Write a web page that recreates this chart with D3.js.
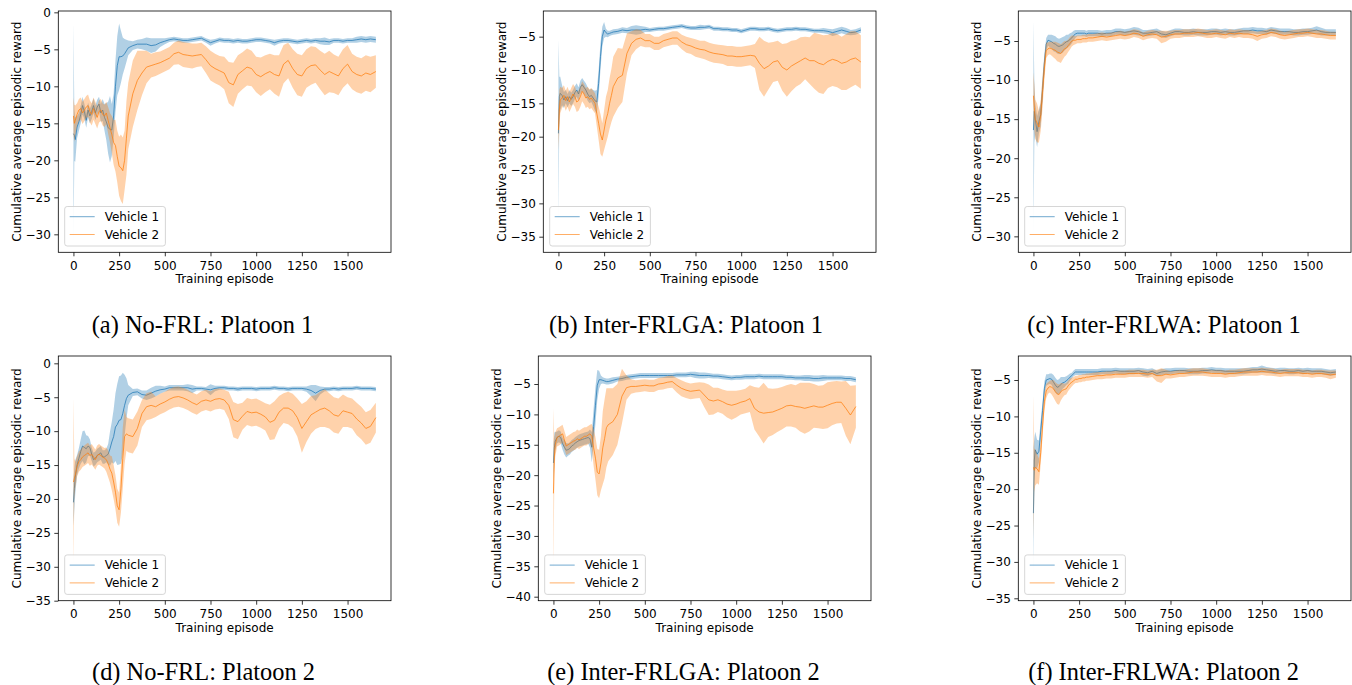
<!DOCTYPE html>
<html>
<head>
<meta charset="utf-8">
<script src="https://cdn.jsdelivr.net/npm/d3@7"></script>
<style>
  body { margin: 0; background: #fff; }
  svg { display: block; }
  .tick text { font-family: "DejaVu Sans", sans-serif; font-size: 12px; fill: #000; }
  .tick line { stroke: #000; stroke-width: 0.8; }
  .lbl { font-family: "DejaVu Sans", sans-serif; font-size: 12px; fill: #000; }
  .caption { font-family: "Liberation Serif", "Times New Roman", serif; font-size: 24.4px; fill: #000; }
</style>
</head>
<body>
<svg id="chart" width="1352" height="685"></svg>
<script>
// training episodes shared by every curve (denser at the start where things move fast)
const episodes = [
  0, 5, 10, 20, 30, 40, 50, 60, 70, 80, 90, 100, 110, 120, 130, 140, 150, 160, 170, 180,
  190, 200, 210, 220, 230, 240, 250, 260, 270, 280, 290, 300,
  325, 350, 375, 400, 425, 450, 475, 500, 525, 550, 575, 600, 625, 650, 675, 700, 725, 750,
  775, 800, 825, 850, 875, 900, 925, 950, 975, 1000, 1025, 1050, 1075, 1100, 1125, 1150, 1175, 1200,
  1225, 1250, 1275, 1300, 1325, 1350, 1375, 1400, 1425, 1450, 1475, 1500, 1525, 1550, 1575, 1600, 1625, 1655
]
const xTicks = [0, 250, 500, 750, 1000, 1250, 1500]
const seriesNames = ['Vehicle 1', 'Vehicle 2']

// (a) No-FRL: Platoon 1
const noFrlP1V1 = [
  -16.4, -16.6, -17.2, -15.5, -14.8, -13.8, -12.6, -13.4, -14.6, -13.2,
  -14.0, -13.4, -12.6, -13.6, -12.8, -12.4, -13.6, -13.2, -14.2, -14.8,
  -15.6, -15.8, -15.9, -14.0, -10.0, -7.2, -6.0, -6.0, -5.9, -5.6,
  -5.2, -4.8,
  -4.5, -4.3, -4.3, -4.3, -4.5, -4.4, -4.1, -3.9, -3.7, -3.6,
  -3.7, -3.8, -3.8, -3.7, -3.6, -3.5, -3.8, -4.1, -3.9, -3.7,
  -3.8, -3.8, -3.9, -3.8, -3.9, -3.9, -3.8, -3.7, -3.7, -3.8,
  -3.9, -4.1, -3.9, -3.8, -3.8, -3.9, -4.0, -3.9, -3.8, -3.9,
  -3.8, -3.9, -3.9, -4.0, -3.8, -3.8, -3.9, -3.8, -3.8, -3.7,
  -3.6, -3.7, -3.6, -3.7
]
const noFrlP1V1Spread = [
  15, 3.5, 3, 1.5, 1.2, 1.2, 1.2, 1.0, 1.0, 1.0,
  1.0, 1.0, 1.0, 1.0, 1.0, 1.0, 1.2, 1.5, 1.8, 2.5,
  3.5, 4.5, 3.5, 3.0, 3.5, 4.0, 4.5, 3.5, 2.5, 2.0,
  1.5, 1.0,
  0.6, 0.6, 0.7, 0.9, 1.0, 0.9, 0.6, 0.4, 0.3, 0.3,
  0.3, 0.3, 0.3, 0.3, 0.3, 0.3, 0.3, 0.4, 0.3, 0.3,
  0.3, 0.3, 0.3, 0.3, 0.3, 0.3, 0.3, 0.3, 0.3, 0.3,
  0.3, 0.4, 0.3, 0.3, 0.3, 0.3, 0.3, 0.3, 0.3, 0.3,
  0.3, 0.4, 0.5, 0.4, 0.3, 0.3, 0.3, 0.3, 0.3, 0.4,
  0.4, 0.4, 0.4, 0.4
]
const noFrlP1V2 = [
  -14.0, -15.0, -14.6, -13.8, -13.2, -13.0, -13.6, -13.2, -12.8, -12.6,
  -13.4, -13.8, -13.0, -13.6, -14.2, -13.4, -13.2, -13.8, -14.0, -13.6,
  -14.6, -15.6, -16.5, -17.6, -18.0, -19.5, -20.8, -21.0, -21.4, -20.0,
  -17.0, -14.0,
  -11.0, -9.2, -8.2, -7.4, -7.2, -7.0, -6.8, -6.5, -6.2, -5.6,
  -5.4, -5.7, -5.8, -5.9, -5.8, -5.7, -6.4, -7.2, -7.6, -7.9,
  -8.2, -9.5, -9.8, -8.4, -7.9, -7.4, -7.6, -8.4, -8.7, -8.3,
  -8.0, -8.4, -8.6, -7.0, -6.5, -7.6, -8.4, -8.6, -7.6, -7.2,
  -7.1, -7.8, -8.4, -8.0, -8.3, -8.6, -7.6, -7.0, -8.0, -8.4,
  -8.6, -8.2, -8.4, -8.0
]
const noFrlP1V2Spread = [
  2.5, 2.5, 2.0, 1.5, 1.5, 1.5, 1.5, 1.5, 1.5, 1.5,
  1.5, 1.5, 1.5, 1.5, 1.5, 1.5, 1.5, 1.5, 1.5, 1.5,
  1.8, 2.0, 2.5, 3.0, 3.5, 3.5, 4.0, 4.5, 4.5, 4.0,
  5.0, 4.5,
  4.5, 4.0, 3.0, 2.2, 1.6, 1.6, 1.5, 1.5, 1.5, 1.5,
  1.6, 1.7, 1.7, 1.7, 1.6, 1.6, 1.8, 2.0, 2.0, 2.0,
  2.2, 2.8, 3.0, 2.6, 2.5, 2.5, 2.4, 2.4, 2.6, 2.5,
  2.4, 2.6, 2.8, 2.6, 2.4, 2.6, 2.8, 2.8, 2.6, 2.6,
  2.4, 2.6, 2.8, 2.8, 2.6, 2.6, 2.6, 2.6, 2.4, 2.4,
  2.4, 2.4, 2.4, 2.2
]

// (b) Inter-FRLGA: Platoon 1
const gaP1V1 = [
  -19.5, -14.0, -13.5, -13.8, -14.5, -14.0, -14.6, -14.0, -14.4, -14.0,
  -13.4, -13.0, -13.6, -12.6, -12.2, -12.6, -13.0, -13.6, -14.0, -13.8,
  -14.2, -14.6, -14.8, -12.0, -8.0, -5.0, -4.0, -4.4, -4.6, -4.5,
  -4.4, -4.3,
  -4.2, -4.0, -4.1, -4.0, -4.0, -4.0, -3.9, -4.0, -3.9, -3.8,
  -3.8, -3.7, -3.6, -3.5, -3.4, -3.6, -3.7, -3.7, -3.6, -3.6,
  -3.5, -3.8, -3.8, -3.9, -3.9, -4.0, -4.0, -4.2, -4.0, -3.8,
  -3.8, -3.9, -3.9, -3.8, -4.0, -4.1, -4.0, -3.9, -3.9, -3.8,
  -3.9, -3.9, -4.0, -4.1, -4.1, -4.1, -4.2, -4.4, -4.2, -4.0,
  -4.2, -4.4, -4.3, -4.0
]
const gaP1V1Spread = [
  14, 3, 2.5, 1.5, 1.2, 1.0, 1.0, 1.0, 1.0, 1.0,
  1.0, 1.0, 1.0, 1.0, 1.0, 1.0, 1.0, 1.0, 1.0, 1.0,
  1.2, 1.5, 1.8, 2.0, 2.0, 1.5, 1.2, 0.6, 0.5, 0.4,
  0.4, 0.4,
  0.4, 0.4, 0.4, 0.6, 0.7, 0.6, 0.4, 0.3, 0.3, 0.3,
  0.3, 0.3, 0.3, 0.3, 0.3, 0.3, 0.3, 0.3, 0.4, 0.3,
  0.3, 0.3, 0.3, 0.3, 0.3, 0.3, 0.3, 0.3, 0.3, 0.3,
  0.3, 0.3, 0.3, 0.3, 0.3, 0.3, 0.3, 0.3, 0.3, 0.3,
  0.3, 0.3, 0.3, 0.3, 0.3, 0.4, 0.4, 0.5, 0.5, 0.5,
  0.5, 0.4, 0.4, 0.4
]
const gaP1V2 = [
  -19.0, -16.0, -14.5, -14.2, -13.8, -14.6, -14.0, -14.8, -14.2, -13.6,
  -14.0, -14.8, -14.6, -14.0, -13.2, -13.6, -14.2, -14.0, -14.4, -14.2,
  -14.6, -15.0, -16.5, -18.0, -19.6, -20.5, -19.0, -17.5, -16.5, -15.0,
  -13.8, -12.5,
  -11.2, -10.8, -7.5, -6.0, -5.4, -5.2, -5.6, -5.6, -6.0, -6.0,
  -5.6, -5.4, -5.2, -5.2, -5.8, -6.2, -6.4, -6.7, -6.9, -7.0,
  -7.3, -7.5, -7.6, -7.7, -7.9, -7.9, -8.0, -8.0, -7.9, -7.8,
  -7.9, -9.0, -9.8, -9.4, -8.8, -8.6, -9.6, -10.0, -9.4, -9.0,
  -8.6, -8.2, -8.6, -8.6, -9.0, -9.2, -8.7, -8.4, -8.6, -9.0,
  -8.8, -8.4, -8.2, -8.8
]
const gaP1V2Spread = [
  3.0, 3.0, 2.0, 1.5, 1.5, 1.5, 1.5, 1.5, 1.5, 1.5,
  1.5, 1.5, 1.5, 1.5, 1.5, 1.5, 1.5, 1.5, 1.5, 1.5,
  1.5, 1.5, 2.0, 2.5, 3.0, 2.5, 3.0, 3.5, 3.5, 3.8,
  4.0, 4.5,
  4.5, 4.0, 3.0, 1.8, 1.5, 1.2, 1.0, 1.0, 1.0, 1.0,
  1.0, 1.0, 1.0, 1.0, 1.1, 1.2, 1.2, 1.3, 1.3, 1.4,
  1.4, 1.4, 1.4, 1.4, 1.5, 1.5, 1.5, 1.5, 1.5, 1.5,
  1.8, 4.0, 4.2, 3.5, 3.0, 3.0, 3.5, 4.0, 3.8, 3.5,
  3.5, 3.2, 3.5, 4.2, 4.4, 4.4, 4.0, 4.0, 4.0, 4.0,
  4.2, 4.2, 4.0, 4.0
]

// (c) Inter-FRLWA: Platoon 1
const waP1V1 = [
  -16.4, -14.0, -15.0, -16.6, -15.3, -14.4, -11.2, -7.8, -5.4, -4.9,
  -5.0, -5.1, -5.3, -5.4, -5.6, -5.7, -5.6, -5.5, -5.3, -5.1,
  -5.0, -4.8, -4.6, -4.3, -4.1, -4.0, -4.0, -4.0, -4.0, -4.0,
  -4.1, -4.0,
  -4.0, -4.0, -4.1, -4.0, -4.0, -3.8, -3.8, -3.9, -3.8, -3.7,
  -3.8, -4.0, -4.0, -3.9, -3.8, -4.1, -4.2, -4.0, -3.8, -3.8,
  -3.9, -3.9, -3.8, -3.9, -3.9, -3.9, -3.8, -3.8, -3.9, -3.8,
  -3.9, -3.9, -3.8, -3.7, -3.7, -3.6, -3.7, -3.7, -3.8, -3.6,
  -3.7, -3.8, -3.8, -3.8, -3.9, -3.9, -3.8, -3.8, -3.7, -3.6,
  -3.8, -3.9, -3.9, -3.9
]
const waP1V1Spread = [
  14, 4, 2, 2, 1.5, 1.5, 1.5, 1.2, 0.8, 0.7,
  0.8, 0.9, 1.0, 1.0, 1.0, 1.0, 1.0, 1.0, 0.9, 0.9,
  0.8, 0.8, 0.7, 0.6, 0.5, 0.4, 0.4, 0.4, 0.4, 0.4,
  0.4, 0.4,
  0.4, 0.4, 0.4, 0.4, 0.4, 0.4, 0.4, 0.4, 0.4, 0.5,
  0.5, 0.4, 0.4, 0.4, 0.4, 0.4, 0.4, 0.4, 0.4, 0.4,
  0.4, 0.4, 0.4, 0.4, 0.4, 0.4, 0.4, 0.4, 0.4, 0.4,
  0.4, 0.4, 0.4, 0.4, 0.4, 0.4, 0.4, 0.4, 0.4, 0.4,
  0.4, 0.4, 0.4, 0.4, 0.4, 0.4, 0.4, 0.4, 0.4, 0.5,
  0.5, 0.4, 0.4, 0.4
]
const waP1V2 = [
  -12.0, -13.5, -15.0, -15.5, -16.0, -14.5, -11.5, -8.5, -6.2, -6.0,
  -5.9, -6.0, -6.1, -6.2, -6.4, -6.5, -6.6, -6.3, -6.0, -5.9,
  -5.6, -5.3, -5.0, -4.9, -4.9, -4.8, -4.8, -4.8, -4.7, -4.7,
  -4.7, -4.6,
  -4.6, -4.5, -4.4, -4.5, -4.4, -4.3, -4.2, -4.3, -4.2, -4.0,
  -4.1, -4.4, -4.2, -4.1, -4.2, -4.5, -4.4, -4.2, -4.1, -4.1,
  -4.0, -4.0, -4.0, -3.9, -4.0, -4.1, -4.1, -4.0, -4.1, -4.2,
  -4.0, -4.1, -4.0, -4.1, -4.1, -4.2, -4.4, -4.2, -4.1, -3.9,
  -4.0, -4.2, -4.3, -4.2, -4.1, -4.0, -4.0, -3.9, -4.0, -4.1,
  -4.1, -4.2, -4.3, -4.3
]
const waP1V2Spread = [
  3.0, 3.0, 2.5, 2.5, 2.0, 2.0, 2.0, 1.5, 1.0, 0.8,
  0.8, 0.9, 1.0, 1.1, 1.2, 1.2, 1.2, 1.1, 1.0, 0.9,
  0.8, 0.8, 0.7, 0.6, 0.5, 0.5, 0.5, 0.5, 0.5, 0.5,
  0.5, 0.5,
  0.5, 0.5, 0.5, 0.5, 0.5, 0.5, 0.5, 0.5, 0.5, 0.5,
  0.5, 0.5, 0.5, 0.5, 0.5, 0.8, 0.7, 0.5, 0.5, 0.5,
  0.5, 0.5, 0.5, 0.5, 0.5, 0.5, 0.5, 0.5, 0.5, 0.5,
  0.5, 0.5, 0.5, 0.5, 0.5, 0.5, 0.6, 0.5, 0.5, 0.5,
  0.5, 0.5, 0.5, 0.5, 0.5, 0.5, 0.5, 0.5, 0.5, 0.5,
  0.5, 0.5, 0.5, 0.5
]

// (d) No-FRL: Platoon 2
const noFrlP2V1 = [
  -20.5, -18.5, -16.8, -15.0, -14.0, -13.0, -12.2, -12.4, -12.6, -12.2,
  -12.4, -13.4, -14.2, -14.0, -13.6, -13.4, -13.2, -13.8, -13.8, -13.6,
  -13.4, -12.6, -11.6, -10.8, -9.4, -9.0, -8.4, -8.3, -7.4, -6.2,
  -5.2, -4.7,
  -4.3, -4.2, -4.6, -4.7, -4.4, -4.1, -3.9, -3.8, -3.6, -3.6,
  -3.6, -3.6, -3.6, -3.8, -3.7, -3.7, -3.8, -3.9, -3.7, -3.6,
  -3.6, -3.7, -3.7, -3.8, -3.7, -3.7, -3.7, -3.8, -3.7, -3.7,
  -3.7, -3.6, -3.7, -3.7, -3.8, -3.7, -3.7, -3.7, -3.8, -4.0,
  -4.4, -4.0, -3.8, -3.8, -3.7, -3.8, -3.7, -3.7, -3.7, -3.6,
  -3.7, -3.7, -3.7, -3.8
]
const noFrlP2V1Spread = [
  3.5, 3.0, 2.5, 1.5, 1.5, 1.8, 2.2, 2.5, 2.0, 1.5,
  1.2, 1.0, 1.0, 1.0, 1.0, 1.0, 1.0, 1.0, 1.0, 1.0,
  1.5, 2.5, 3.0, 4.0, 5.0, 6.0, 6.5, 6.5, 6.0, 4.5,
  3.0, 1.5,
  0.5, 0.5, 0.6, 0.7, 0.8, 0.8, 0.6, 0.4, 0.4, 0.4,
  0.4, 0.4, 0.5, 0.6, 0.3, 0.3, 0.3, 0.8, 0.4, 0.3,
  0.3, 0.3, 0.3, 0.3, 0.3, 0.3, 0.3, 0.3, 0.3, 0.3,
  0.3, 0.3, 0.3, 0.3, 0.3, 0.3, 0.3, 0.3, 0.4, 0.8,
  1.2, 0.6, 0.3, 0.3, 0.3, 0.3, 0.3, 0.3, 0.3, 0.3,
  0.3, 0.3, 0.3, 0.3
]
const noFrlP2V2 = [
  -17.5, -17.0, -16.5, -15.2, -14.5, -14.2, -13.8, -13.6, -13.4, -13.2,
  -13.6, -13.4, -13.8, -14.2, -13.6, -13.4, -13.6, -13.8, -14.0, -14.2,
  -14.8, -15.6, -16.2, -17.5, -19.0, -21.0, -21.6, -18.5, -14.0, -10.8,
  -10.4, -10.6,
  -10.8, -9.6, -7.4, -6.4, -6.2, -6.4, -6.0, -5.7, -5.3, -5.0,
  -4.9, -5.1, -5.4, -5.8, -6.1, -5.6, -5.4, -5.6, -5.3, -5.2,
  -5.4, -6.2, -8.3, -8.6, -7.8, -7.1, -7.3, -7.2, -7.5, -7.9,
  -8.7, -8.4, -7.2, -6.6, -6.6, -7.0, -8.0, -9.6, -8.6, -7.6,
  -7.2, -6.8, -6.6, -7.0, -7.6, -7.8, -7.0, -7.2, -7.4, -8.2,
  -8.8, -9.6, -9.3, -8.0
]
const noFrlP2V2Spread = [
  12.5, 3.0, 2.0, 1.5, 1.5, 1.5, 1.5, 1.5, 1.5, 1.5,
  1.5, 1.5, 1.5, 1.5, 1.5, 1.5, 1.5, 1.5, 1.5, 1.8,
  2.0, 2.0, 2.5, 2.5, 2.5, 2.5, 2.5, 3.5, 4.5, 4.0,
  2.5, 2.5,
  2.5, 2.5, 2.0, 2.0, 2.0, 1.5, 1.5, 1.5, 1.5, 1.5,
  1.5, 1.5, 1.5, 1.5, 1.5, 1.5, 1.5, 1.5, 1.5, 1.5,
  1.5, 2.0, 2.6, 2.6, 2.0, 2.0, 2.0, 2.0, 2.0, 2.0,
  2.6, 2.8, 2.4, 2.2, 2.4, 2.5, 2.8, 3.6, 3.0, 2.8,
  2.5, 2.6, 2.8, 2.6, 2.6, 2.6, 2.4, 2.2, 2.2, 2.4,
  2.4, 2.4, 2.4, 2.2
]

// (e) Inter-FRLGA: Platoon 2
const gaP2V1 = [
  -18.0, -15.5, -14.4, -13.8, -13.6, -13.8, -14.8, -15.4, -15.9, -15.8,
  -15.6, -15.2, -15.0, -14.7, -14.5, -14.3, -14.2, -14.1, -14.0, -13.9,
  -13.8, -14.0, -15.4, -12.0, -8.5, -5.2, -4.3, -4.3, -4.4, -4.5,
  -4.6, -4.6,
  -4.4, -4.2, -4.1, -3.9, -3.8, -3.7, -3.6, -3.6, -3.6, -3.6,
  -3.6, -3.6, -3.6, -3.6, -3.5, -3.5, -3.5, -3.4, -3.5, -3.6,
  -3.6, -3.6, -3.7, -3.7, -3.8, -3.9, -4.0, -3.9, -3.9, -3.8,
  -3.8, -3.8, -3.7, -3.8, -3.8, -3.8, -3.8, -3.8, -3.9, -3.9,
  -4.0, -4.0, -4.0, -4.0, -4.1, -4.1, -4.0, -4.0, -4.0, -4.0,
  -4.0, -4.1, -4.1, -4.3
]
const gaP2V1Spread = [
  3.0, 2.5, 1.5, 1.0, 1.0, 1.0, 1.0, 1.2, 1.2, 1.0,
  1.0, 1.0, 1.0, 1.0, 1.0, 1.0, 1.0, 1.0, 1.0, 1.0,
  1.0, 1.5, 2.5, 3.0, 3.0, 2.5, 1.5, 0.7, 0.5, 0.5,
  0.5, 0.5,
  0.5, 0.4, 0.4, 0.4, 0.4, 0.4, 0.4, 0.4, 0.4, 0.4,
  0.4, 0.4, 0.4, 0.4, 0.4, 0.4, 0.4, 0.4, 0.5, 0.5,
  0.5, 0.4, 0.4, 0.4, 0.4, 0.4, 0.4, 0.4, 0.4, 0.4,
  0.4, 0.4, 0.4, 0.4, 0.4, 0.4, 0.4, 0.4, 0.4, 0.4,
  0.4, 0.4, 0.5, 0.5, 0.5, 0.5, 0.5, 0.4, 0.4, 0.4,
  0.4, 0.4, 0.4, 0.4
]
const gaP2V2 = [
  -23.0, -17.0, -15.0, -13.8, -13.6, -13.4, -13.2, -14.2, -15.2, -15.0,
  -14.8, -14.6, -14.4, -14.3, -14.0, -14.2, -14.0, -13.8, -13.6, -13.6,
  -13.4, -13.2, -13.6, -15.5, -17.2, -19.5, -19.8, -18.0, -15.5, -14.0,
  -12.2, -11.7,
  -11.2, -10.0, -7.0, -5.6, -5.4, -5.4, -5.3, -5.2, -5.3, -5.3,
  -5.0, -4.9, -4.7, -4.6, -5.2, -5.7, -6.0, -6.2, -6.1, -6.0,
  -6.8, -7.6, -7.8, -7.6, -7.9, -8.3, -8.5, -8.3, -8.0, -7.8,
  -7.4, -9.0, -9.6, -9.8, -9.7, -9.6, -9.3, -9.0, -8.6, -8.5,
  -8.7, -8.8, -9.0, -8.8, -8.6, -8.8, -8.8, -8.5, -8.2, -8.0,
  -8.0, -9.0, -10.1, -8.7
]
const gaP2V2Spread = [
  14, 3.0, 2.0, 1.5, 1.5, 1.5, 1.5, 1.5, 1.5, 1.5,
  1.5, 1.5, 1.5, 1.5, 1.5, 1.5, 1.5, 1.5, 1.5, 1.5,
  1.5, 1.5, 2.0, 3.0, 3.5, 3.8, 4.0, 4.5, 6.0, 6.5,
  6.5, 6.0,
  5.5, 5.0, 4.5, 2.0, 1.2, 1.0, 1.0, 1.0, 1.0, 1.0,
  1.0, 1.0, 1.0, 1.0, 1.2, 1.3, 1.3, 1.3, 1.3, 1.3,
  2.0, 2.5, 2.2, 2.0, 2.0, 2.2, 2.4, 2.2, 2.0, 2.0,
  2.2, 3.5, 4.0, 5.0, 4.0, 3.8, 3.6, 3.5, 3.4, 3.5,
  3.5, 4.0, 4.2, 4.0, 3.6, 3.5, 3.6, 3.8, 3.6, 3.5,
  3.4, 4.5, 4.8, 3.5
]

// (f) Inter-FRLWA: Platoon 2
const waP2V1 = [
  -23.3, -16.0, -14.6, -15.2, -14.8, -12.0, -9.2, -6.2, -5.0, -4.9,
  -4.8, -4.9, -5.3, -5.7, -6.0, -5.9, -5.6, -5.4, -5.3, -5.1,
  -4.9, -4.6, -4.4, -4.1, -3.9, -3.9, -3.9, -3.9, -3.9, -3.9,
  -3.9, -3.9,
  -3.9, -3.9, -3.8, -3.8, -3.8, -3.7, -3.8, -3.8, -3.8, -3.8,
  -3.7, -3.9, -4.0, -3.8, -4.1, -3.9, -3.8, -3.8, -3.7, -3.7,
  -3.7, -3.8, -3.8, -3.8, -3.7, -3.7, -3.6, -3.7, -3.7, -3.8,
  -3.8, -3.8, -3.8, -3.8, -3.7, -3.6, -3.6, -3.5, -3.6, -3.7,
  -3.8, -3.7, -3.7, -3.8, -3.8, -3.7, -3.8, -3.7, -3.8, -3.8,
  -3.8, -3.9, -4.0, -3.9
]
const waP2V1Spread = [
  9.0, 3.0, 2.5, 2.0, 1.5, 1.5, 1.2, 1.0, 0.8, 0.7,
  0.7, 0.8, 1.0, 1.0, 1.0, 1.0, 1.0, 0.8, 0.7, 0.6,
  0.6, 0.5, 0.4, 0.4, 0.4, 0.4, 0.4, 0.4, 0.4, 0.4,
  0.4, 0.4,
  0.4, 0.4, 0.4, 0.4, 0.4, 0.4, 0.4, 0.4, 0.4, 0.4,
  0.4, 0.5, 0.5, 0.4, 0.4, 0.4, 0.4, 0.4, 0.4, 0.4,
  0.4, 0.4, 0.4, 0.4, 0.4, 0.4, 0.4, 0.4, 0.4, 0.4,
  0.4, 0.4, 0.4, 0.4, 0.4, 0.4, 0.4, 0.5, 0.4, 0.4,
  0.4, 0.4, 0.4, 0.4, 0.4, 0.4, 0.4, 0.4, 0.4, 0.4,
  0.4, 0.4, 0.4, 0.4
]
const waP2V2 = [
  -17.0, -17.4, -17.0, -17.2, -17.6, -15.0, -11.3, -8.0, -6.5, -6.1,
  -5.9, -6.0, -6.2, -6.6, -6.9, -7.0, -6.6, -6.4, -6.3, -6.2,
  -5.8, -5.5, -5.3, -5.1, -4.9, -4.9, -4.8, -4.8, -4.7, -4.7,
  -4.6, -4.6,
  -4.5, -4.4, -4.4, -4.3, -4.3, -4.2, -4.2, -4.2, -4.1, -4.1,
  -4.1, -4.1, -4.2, -4.1, -4.4, -4.4, -4.2, -4.3, -4.2, -4.1,
  -4.1, -4.0, -3.9, -3.9, -3.9, -4.0, -4.1, -4.1, -4.1, -4.2,
  -4.1, -4.1, -4.0, -3.9, -3.9, -3.9, -3.9, -3.8, -3.9, -3.9,
  -4.0, -4.1, -4.0, -4.0, -4.0, -4.0, -4.1, -4.1, -4.2, -4.1,
  -4.1, -4.2, -4.3, -4.2
]
const waP2V2Spread = [
  10, 3.0, 2.5, 2.0, 1.8, 1.5, 1.5, 1.2, 1.0, 0.8,
  0.8, 1.0, 1.2, 1.3, 1.4, 1.4, 1.2, 1.0, 0.8, 0.8,
  0.7, 0.7, 0.6, 0.5, 0.5, 0.5, 0.5, 0.5, 0.5, 0.5,
  0.5, 0.5,
  0.5, 0.5, 0.5, 0.5, 0.5, 0.5, 0.5, 0.5, 0.5, 0.5,
  0.5, 0.5, 0.5, 0.5, 0.8, 1.0, 0.6, 0.5, 0.5, 0.5,
  0.5, 0.5, 0.5, 0.5, 0.5, 0.5, 0.5, 0.5, 0.5, 0.5,
  0.5, 0.5, 0.5, 0.5, 0.5, 0.5, 0.5, 0.5, 0.5, 0.5,
  0.5, 0.5, 0.5, 0.5, 0.5, 0.5, 0.5, 0.5, 0.5, 0.5,
  0.5, 0.5, 0.6, 0.5
]

const captions = [
  '(a) No-FRL: Platoon 1', '(b) Inter-FRLGA: Platoon 1', '(c) Inter-FRLWA: Platoon 1',
  '(d) No-FRL: Platoon 2', '(e) Inter-FRLGA: Platoon 2', '(f) Inter-FRLWA: Platoon 2'
]
const yDomains = [[-32.43, 0.18], [-37.34, -1.15], [-32.04, -1.16], [-35.0, 1.08], [-40.66, -0.39], [-35.33, -1.7]]
const yTicks = [
  [0, -5, -10, -15, -20, -25, -30],
  [-5, -10, -15, -20, -25, -30, -35],
  [-5, -10, -15, -20, -25, -30],
  [0, -5, -10, -15, -20, -25, -30, -35],
  [-5, -10, -15, -20, -25, -30, -35, -40],
  [-5, -10, -15, -20, -25, -30, -35]
]
const panelSeries = [
  [[noFrlP1V1, noFrlP1V1Spread], [noFrlP1V2, noFrlP1V2Spread]],
  [[gaP1V1, gaP1V1Spread], [gaP1V2, gaP1V2Spread]],
  [[waP1V1, waP1V1Spread], [waP1V2, waP1V2Spread]],
  [[noFrlP2V1, noFrlP2V1Spread], [noFrlP2V2, noFrlP2V2Spread]],
  [[gaP2V1, gaP2V1Spread], [gaP2V2, gaP2V2Spread]],
  [[waP2V1, waP2V1Spread], [waP2V2, waP2V2Spread]]
]

const AX_W = 332.7
const axesLeft = [58.3, 543.3, 1018.3, 58.3, 538.3, 1018.3]
const axesTop = [11, 11, 11, 356, 356, 356]
const axesBottom = [252.3, 252.3, 252.3, 600.7, 600.7, 600.7]
const captionX = [202.5, 686, 1164, 203.5, 683.5, 1163.5]
const captionY = [333, 333, 333, 680, 680, 680]
const COLORS = ['#1f77b4', '#ff7f0e']
const X_DOMAIN = [-82.75, 1737.75]

const svg = d3.select('#chart')
const defs = svg.append('defs')

captions.forEach((caption, p) => {
  const left = axesLeft[p]
  const top = axesTop[p]
  const h = axesBottom[p] - top

  const x = d3.scaleLinear().domain(X_DOMAIN).range([0, AX_W])
  const y = d3.scaleLinear().domain(yDomains[p]).range([h, 0])

  const g = svg.append('g').attr('transform', `translate(${left},${top})`)

  defs.append('clipPath').attr('id', `clip${p}`)
    .append('rect').attr('width', AX_W).attr('height', h)

  const plot = g.append('g').attr('clip-path', `url(#clip${p})`)

  panelSeries[p].forEach(([mean, spread], s) => {
    const rows = episodes.map((ep, i) => ({ ep, m: mean[i], s: spread[i] }))

    const area = d3.area()
      .x((d) => x(d.ep))
      .y0((d) => y(d.m - d.s))
      .y1((d) => y(d.m + d.s))

    const line = d3.line()
      .x((d) => x(d.ep))
      .y((d) => y(d.m))

    plot.append('path')
      .datum(rows)
      .attr('d', area)
      .attr('fill', COLORS[s])
      .attr('fill-opacity', 0.35)
      .attr('stroke', 'none')

    plot.append('path')
      .datum(rows)
      .attr('d', line)
      .attr('fill', 'none')
      .attr('stroke', COLORS[s])
      .attr('stroke-width', 0.75)
  })

  // axes
  const xAxis = g.append('g')
    .attr('transform', `translate(0,${h})`)
    .call(d3.axisBottom(x).tickValues(xTicks).tickFormat(d3.format('d')).tickSize(4).tickPadding(5))
  xAxis.select('.domain').remove()

  const yAxis = g.append('g')
    .call(d3.axisLeft(y).tickValues(yTicks[p]).tickFormat(d3.format('d')).tickSize(4).tickPadding(3.5))
  yAxis.select('.domain').remove()

  g.append('rect')
    .attr('width', AX_W)
    .attr('height', h)
    .attr('fill', 'none')
    .attr('stroke', '#000')
    .attr('stroke-width', 0.8)

  // legend
  const leg = g.append('g').attr('transform', `translate(6.4,${h - 45.8})`)
  leg.append('rect')
    .attr('width', 100.7)
    .attr('height', 39.5)
    .attr('rx', 2.5)
    .attr('fill', '#fff')
    .attr('fill-opacity', 0.8)
    .attr('stroke', '#cccccc')
    .attr('stroke-width', 0.8)
  seriesNames.forEach((name, s) => {
    const ly = 10.2 + s * 17.8
    leg.append('line')
      .attr('x1', 5).attr('x2', 30)
      .attr('y1', ly).attr('y2', ly)
      .attr('stroke', COLORS[s])
      .attr('stroke-opacity', 0.85)
      .attr('stroke-width', 0.75)
    leg.append('text')
      .attr('class', 'lbl')
      .attr('x', 40)
      .attr('y', ly)
      .attr('dy', '0.36em')
      .text(name)
  })

  // axis titles
  g.append('text')
    .attr('class', 'lbl')
    .attr('x', AX_W / 2)
    .attr('y', h + 31)
    .attr('text-anchor', 'middle')
    .text('Training episode')

  g.append('text')
    .attr('class', 'lbl')
    .attr('transform', `translate(-41.6,${h / 2}) rotate(-90)`)
    .attr('text-anchor', 'middle')
    .attr('dy', '0.36em')
    .text('Cumulative average episodic reward')

  // subfigure caption
  svg.append('text')
    .attr('class', 'caption')
    .attr('x', captionX[p])
    .attr('y', captionY[p])
    .attr('text-anchor', 'middle')
    .text(caption)
})
</script>
</body>
</html>
